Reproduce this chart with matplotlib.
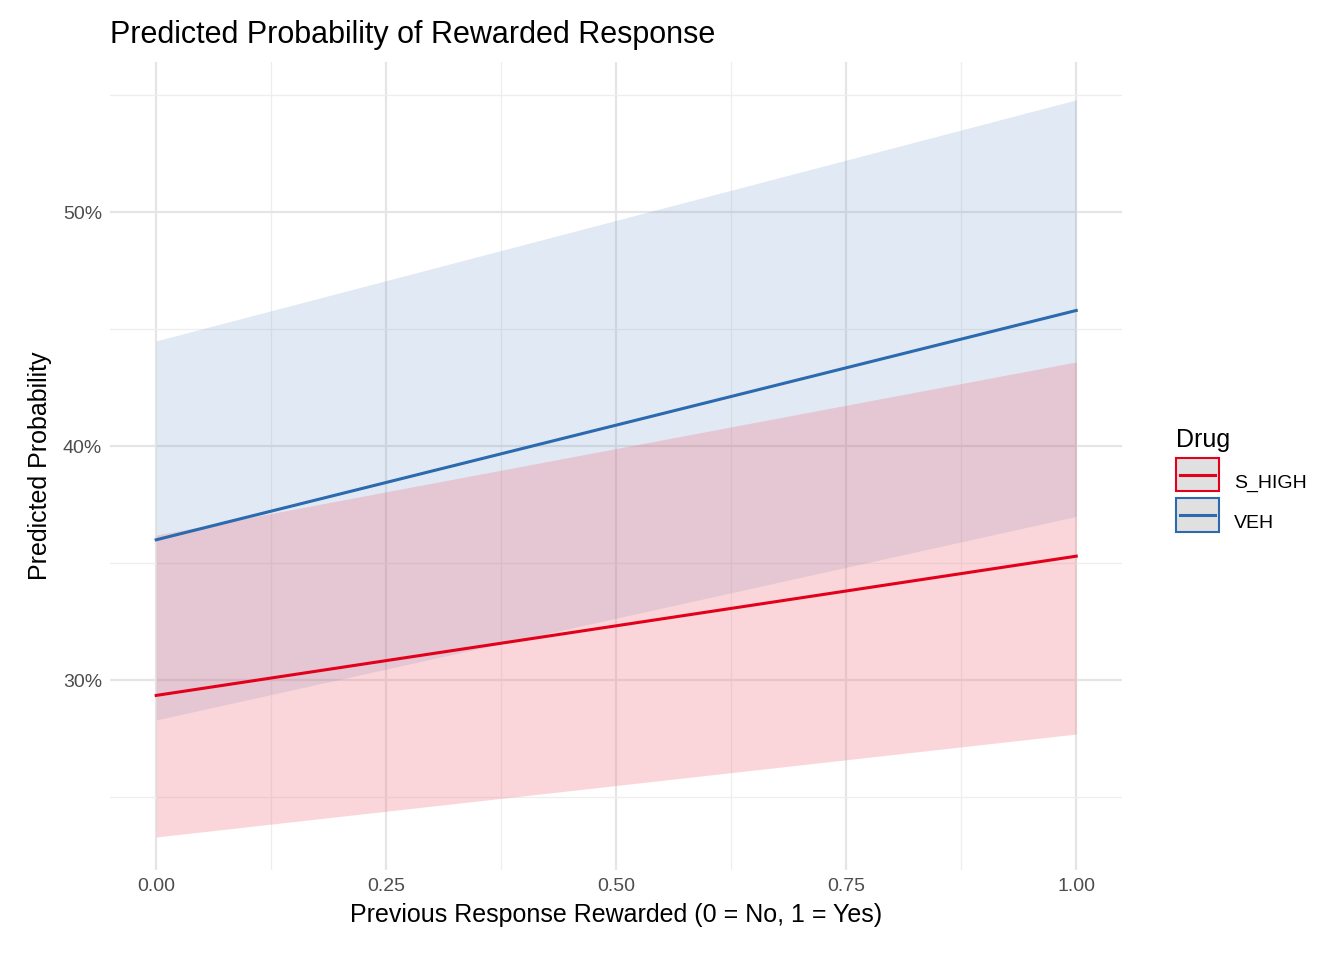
import matplotlib
matplotlib.use("Agg")
import matplotlib.pyplot as plt
from matplotlib.patches import Patch
from matplotlib.lines import Line2D
from matplotlib.legend_handler import HandlerBase

plt.rcParams['font.family'] = ['Liberation Sans', 'DejaVu Sans']

x = [0.0, 1.0]
veh_fit = [36.0, 45.8]
veh_lo = [28.3, 37.0]
veh_hi = [44.5, 54.8]
shigh_fit = [29.35, 35.3]
shigh_lo = [23.3, 27.7]
shigh_hi = [36.2, 43.6]

red = "#E3001B"
blue = "#2B6AAE"

fig = plt.figure(figsize=(13.44, 9.6), dpi=100)
ax = fig.add_axes([0.082, 0.094, 0.753, 0.841])

ax.fill_between(x, veh_lo, veh_hi, color="#6B93C8", alpha=0.2, lw=0)
ax.fill_between(x, shigh_lo, shigh_hi, color="#EE6F7D", alpha=0.28, lw=0)
ax.plot(x, shigh_fit, color=red, lw=2.2)
ax.plot(x, veh_fit, color=blue, lw=2.2)

ax.set_xlim(-0.05, 1.05)
ax.set_ylim(21.9, 56.4)
ax.set_xticks([0, 0.25, 0.5, 0.75, 1.0])
ax.set_xticklabels(["0.00", "0.25", "0.50", "0.75", "1.00"])
ax.set_xticks([0.125, 0.375, 0.625, 0.875], minor=True)
ax.set_yticks([30, 40, 50])
ax.set_yticklabels(["30%", "40%", "50%"])
ax.set_yticks([25, 35, 45, 55], minor=True)
ax.grid(which="major", color="#E5E5E5", lw=1.6)
ax.grid(which="minor", color="#EEEEEE", lw=0.9)
ax.set_axisbelow(True)
for s in ax.spines.values():
    s.set_visible(False)
ax.tick_params(which="both", length=0, labelsize=14, labelcolor="#4D4D4D", pad=6)
ax.set_xlabel("Previous Response Rewarded (0 = No, 1 = Yes)", fontsize=18, labelpad=6)
ax.set_ylabel("Predicted Probability", fontsize=18, labelpad=8)
ax.set_title("Predicted Probability of Rewarded Response", fontsize=22, loc="left", pad=14)


class KeyHandler(HandlerBase):
    def __init__(self, color):
        super().__init__()
        self.color = color

    def create_artists(self, legend, orig, xd, yd, w, h, fontsize, trans):
        rect = plt.Rectangle((xd, yd - 0.35 * h), w, h * 1.7, facecolor="#E0E0E0",
                             edgecolor=self.color, lw=1.5, transform=trans)
        ln = Line2D([xd + 0.1 * w, xd + 0.9 * w], [yd + h / 2, yd + h / 2],
                    color=self.color, lw=2.2, transform=trans)
        return [rect, ln]


h1 = Patch(label="S_HIGH")
h2 = Patch(label="VEH")
leg = fig.legend([h1, h2], ["S_HIGH", "VEH"], title="Drug", loc="center left",
                 bbox_to_anchor=(0.862, 0.5), frameon=False, fontsize=14,
                 title_fontsize=18, handlelength=2.2, handleheight=1.2,
                 labelspacing=1.0, alignment="left",
                 handler_map={h1: KeyHandler(red), h2: KeyHandler(blue)})

fig.savefig("out.png", dpi=100)
